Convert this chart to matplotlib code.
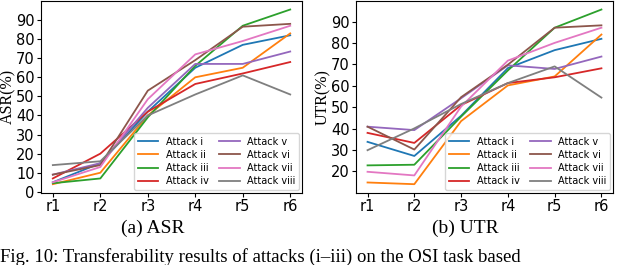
import numpy as np
import matplotlib.pyplot as plt

rounds = ["r1", "r2", "r3", "r4", "r5", "r6"]
attacks = ["Attack i", "Attack ii", "Attack iii", "Attack iv",
           "Attack v", "Attack vi", "Attack vii", "Attack viii"]

# ASR (%) per attack over rounds
asr = [
    [5, 15, 42, 65, 77, 82],
    [4, 10, 40, 60, 65, 83],
    [4.5, 7, 39, 66, 87, 95.5],
    [7, 20, 42, 56.5, 62, 68],
    [9, 15, 44, 67, 67, 73.5],
    [9, 14, 53, 69, 86.5, 88],
    [5, 13, 48.5, 72, 79, 87],
    [14, 16, 40, 51, 61, 51],
]

# UTR (%) per attack over rounds
utr = [
    [33.8, 27.2, 46, 68.3, 76.7, 82],
    [14.8, 14, 43.5, 60.2, 64.4, 84],
    [22.8, 23.1, 45.6, 67.2, 87.2, 95.7],
    [38, 33.3, 51, 61.3, 64, 68.2],
    [40.9, 39.3, 54.2, 69.6, 67.9, 73.7],
    [40.9, 30.2, 54.7, 69.9, 87.2, 88.3],
    [19.8, 18.1, 50.3, 71.8, 80.1, 87.2],
    [29.9, 40.1, 51.5, 61.3, 69.1, 54.5],
]

fig = plt.figure(figsize=(6.4, 2.65), dpi=100)
ax1 = fig.add_axes([0.064, 0.272, 0.408, 0.725])
ax2 = fig.add_axes([0.556, 0.272, 0.402, 0.725])

def draw(ax, data, ylabel):
    for name, vals in zip(attacks, data):
        ax.plot(rounds, vals, label=name, linewidth=1.3)
    ax.set_ylabel(ylabel, family="Liberation Serif", fontsize=11.5, labelpad=0)
    ax.tick_params(labelsize=10.5, pad=1.5, length=3)
    ax.set_yticks(np.arange(0 if min(map(min, data)) < 10 else 20, 100, 10))
    ax.legend(ncol=2, loc="lower right", fontsize=7, handlelength=2.1,
              handletextpad=0.75, borderaxespad=0.3, columnspacing=1.1,
              labelspacing=0.32, framealpha=0.8)

draw(ax1, asr, "ASR(%)")
draw(ax2, utr, "UTR(%)")

fig.text(0.238, 0.14, "(a) ASR", family="Liberation Serif", fontsize=14,
         ha="center", va="center")
fig.text(0.727, 0.14, "(b) UTR", family="Liberation Serif", fontsize=14,
         ha="center", va="center")
fig.text(0.0, 0.012, "Fig. 10: Transferability results of attacks (i\u2013iii) on the OSI task based",
         family="Liberation Serif", fontsize=13.5, ha="left", va="baseline")

fig.savefig("out.png", dpi=100)
